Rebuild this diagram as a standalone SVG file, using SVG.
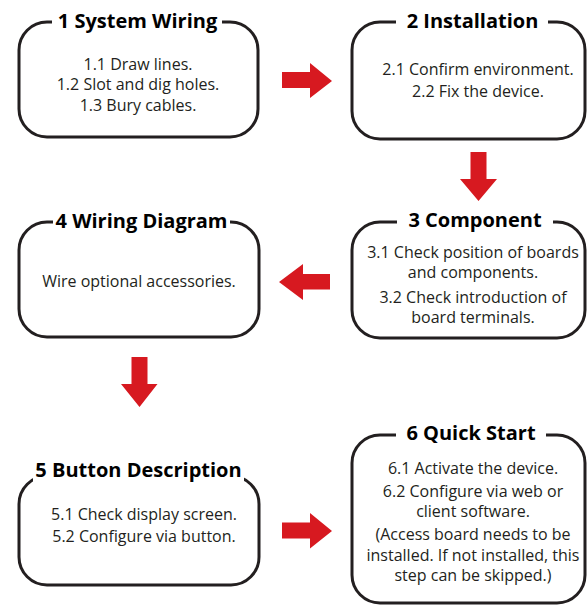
<svg xmlns="http://www.w3.org/2000/svg" width="587" height="606" viewBox="0 0 587 606">
<style>
.box{fill:#fff;stroke:#231f20;stroke-width:3}
.tbg{fill:#fff}
.title{font-family:"Open Sans","Noto Sans",sans-serif;font-weight:bold;font-size:20px;fill:#000;text-anchor:middle}
.body{font-family:"Open Sans","Noto Sans",sans-serif;font-size:16px;fill:#231f20;text-anchor:middle}
.arrow{fill:#d71920}
</style>
<rect width="587" height="606" fill="#fff"/>
<g id="connectors">
<polygon class="arrow" points="282,72 310,72 310,63 332,81 310,98 310,88 282,88"/>
<polygon class="arrow" points="470.5,152 486.5,152 486.5,179 497,179 478.5,201 460,179 470.5,179"/>
<polygon class="arrow" points="330,274 303,274 303,264 279,282 303,300 303,289.5 330,289.5"/>
<polygon class="arrow" points="131.5,357 147.5,357 147.5,384 157.5,384 139.5,407 121,384 131.5,384"/>
<polygon class="arrow" points="282,522.5 310,522.5 310,513 332,531 310,548.5 310,538.5 282,538.5"/>
</g>
<g id="node1">
<rect class="box" x="19" y="22" width="239" height="115" rx="28"/>
<rect class="tbg" x="52" y="12" width="170" height="20"/>
<text class="title" x="137.5" y="28">1 System Wiring</text>
<text class="body" x="138" y="70">1.1 Draw lines.</text>
<text class="body" x="138" y="90">1.2 Slot and dig holes.</text>
<text class="body" x="138" y="111">1.3 Bury cables.</text>
</g>
<g id="node2">
<rect class="box" x="352" y="22" width="233" height="117" rx="28"/>
<rect class="tbg" x="396" y="12" width="152" height="20"/>
<text class="title" x="472.5" y="28">2 Installation</text>
<text class="body" x="478" y="75">2.1 Confirm environment.</text>
<text class="body" x="478" y="97">2.2 Fix the device.</text>
</g>
<g id="node3">
<rect class="box" x="352" y="222" width="233" height="116" rx="28"/>
<rect class="tbg" x="397" y="212" width="156" height="20"/>
<text class="title" x="475" y="227">3 Component</text>
<text class="body" x="473" y="258">3.1 Check position of boards</text>
<text class="body" x="473" y="278">and components.</text>
<text class="body" x="473" y="303">3.2 Check introduction of</text>
<text class="body" x="473" y="323">board terminals.</text>
</g>
<g id="node4">
<rect class="box" x="19" y="222" width="240" height="115" rx="28"/>
<rect class="tbg" x="53" y="212" width="177" height="20"/>
<text class="title" x="141.5" y="228">4 Wiring Diagram</text>
<text class="body" x="139" y="287">Wire optional accessories.</text>
</g>
<g id="node5">
<rect class="box" x="19" y="476" width="240" height="109" rx="28"/>
<rect class="tbg" x="33" y="464" width="211" height="20"/>
<text class="title" x="138.5" y="477">5 Button Description</text>
<text class="body" x="144" y="520">5.1 Check display screen.</text>
<text class="body" x="144" y="542">5.2 Configure via button.</text>
</g>
<g id="node6">
<rect class="box" x="352" y="435" width="233" height="168" rx="28"/>
<rect class="tbg" x="396" y="425" width="150" height="20"/>
<text class="title" x="471" y="440">6 Quick Start</text>
<text class="body" x="473" y="474">6.1 Activate the device.</text>
<text class="body" x="473" y="497">6.2 Configure via web or</text>
<text class="body" x="473" y="517">client software.</text>
<text class="body" x="473" y="540">(Access board needs to be</text>
<text class="body" x="473" y="561">installed. If not installed, this</text>
<text class="body" x="473" y="581">step can be skipped.)</text>
</g>
</svg>
